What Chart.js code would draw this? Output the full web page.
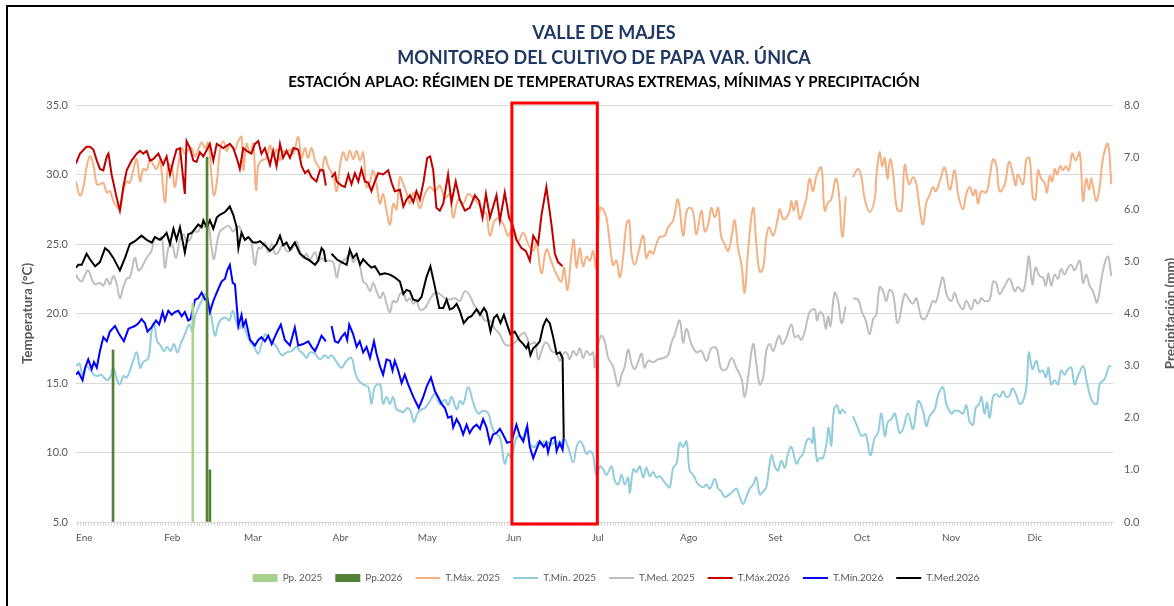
<!DOCTYPE html>
<html>
<head>
<meta charset="utf-8">
<script src="https://cdn.jsdelivr.net/npm/chart.js@4.4.1/dist/chart.umd.min.js"></script>
<style>
  html, body { margin: 0; padding: 0; background: #fff; overflow: hidden; }
  #frame { position: absolute; left: 6px; top: 5px; border-left: 2px solid #000; border-top: 2px solid #000; }
  canvas { display: block; }
</style>
</head>
<body>
<div id="frame"><canvas id="chart" width="1192" height="600"></canvas></div>
<script>
// month names and day-of-year where each month starts
const monthNames = ['Ene', 'Feb', 'Mar', 'Abr', 'May', 'Jun', 'Jul', 'Ago', 'Set', 'Oct', 'Nov', 'Dic'];
const monthStarts = [0, 31, 59, 90, 120, 151, 181, 212, 243, 273, 304, 334];

// highlighted period (red frame), in days
const boxStart = 153;
const boxEnd = 183;

// precipitation [day, mm]
const pp2025 = [[41, 4.2]];
const pp2026 = [[13, 3.3], [46, 7.0], [47, 1.0]];

// temperatures [day, °C]  (null = no data)
const tMax2025 = [[0,29.5],[1.4,28.5],[2.6,29.1],[3.7,30.5],[4.9,31.3],[6.1,30.7],[7.3,29.3],[8.4,29.3],[9.6,29.4],[10.8,28.7],[11.9,28.8],[13.1,28.1],[14.3,27.7],[15.4,27.5],[16.6,28.8],[17.8,29.5],[18.9,29.4],[20.1,30.3],[21.3,31.1],[22.5,29.5],[23.6,30.4],[24.8,30.3],[26,31.1],[27.1,30.7],[28.3,30.4],[29.5,31.0],[31.2,28.0],[32.4,30.7],[33.6,30.5],[34.7,29.1],[35.9,30.7],[37.1,31.9],[38.2,31.5],[39.4,31.8],[40.6,31.9],[41.8,31.3],[42.9,31.8],[44.1,32.3],[45.3,31.9],[46.4,32.3],[47.6,29.8],[48.4,28.5],[49.4,29.4],[50.5,31.7],[51.7,32.4],[52.9,31.7],[54,32.2],[55.8,31.8],[56.9,32.4],[58.1,32.7],[58.7,30.3],[59.9,32.2],[61.1,31.5],[62.2,32.2],[63.2,28.9],[64,30.7],[65.1,31.0],[66.9,31.2],[68.1,32.1],[69.2,31.3],[70.4,31.8],[71.6,31.0],[72.7,31.7],[73.9,31.5],[75.1,31.8],[76.3,31.5],[78,32.7],[79.2,31.2],[80.4,31.9],[81.5,31.2],[82.7,31.9],[83.9,31.0],[85,30.6],[86.2,30.3],[87.4,31.3],[88.5,30.6],[90.3,29.9],[91.5,28.8],[92.6,30.5],[93.8,31.6],[95,31.0],[96.1,31.7],[97.3,31.1],[98.5,31.7],[99.7,31.0],[100.8,31.6],[102,29.1],[103.2,29.5],[104.3,30.3],[105.5,29.3],[106.7,27.9],[107.8,28.6],[109,27.4],[110.2,26.4],[111.4,27.9],[112.5,27.5],[113.7,29.8],[114.9,29.3],[116,28.7],[117.2,27.9],[118.4,28.7],[119.5,28.3],[120.7,27.6],[122.5,28.6],[124.2,29.1],[126,28.8],[127.7,29.2],[129.5,28.3],[131.2,28.6],[132.4,26.9],[134.2,28.2],[135.9,27.9],[137.7,28.6],[139.4,28.3],[141.2,27.9],[142.9,27.4],[144.1,27.1],[145.3,25.6],[147,26.7],[148.8,26.8],[150.5,26.2],[151.7,25.6],[153.4,26.1],[155.2,25.2],[157,25.8],[158.7,25.0],[160.5,24.5],[161.6,25.1],[163.4,22.9],[165.1,24.6],[166.9,23.7],[168.7,22.8],[170.4,22.3],[171.3,23.3],[172.5,21.7],[173.9,24.3],[174.7,25.3],[175.7,23.3],[176.8,24.7],[178,23.4],[179.2,24.1],[180.4,23.8],[181.5,24.5],[182.5,23.3],[183.9,27.6],[185,27.5],[186.2,26.9],[187.4,25.0],[188.5,23.5],[189.7,23.8],[190.9,22.6],[192,24.0],[193.2,26.4],[194.2,26.7],[195,24.3],[196.1,23.5],[197.3,24.3],[199.1,25.6],[200.2,24.0],[201.4,24.5],[202.6,24.3],[203.7,25.0],[204.9,25.5],[206.7,25.6],[207.8,26.2],[209.6,26.7],[211.3,28.2],[213.1,25.6],[214.3,27.3],[215.4,27.6],[216.6,27.3],[217.8,25.7],[219.5,27.4],[220.7,25.9],[221.9,26.4],[223,27.6],[224.2,26.9],[225.4,27.6],[226.5,25.5],[227.7,25.0],[228.9,24.5],[230.1,25.5],[231.2,26.7],[232.4,24.7],[233.6,23.5],[234.7,21.5],[235.9,24.5],[237.7,27.6],[238.8,25.0],[240,23.0],[241.2,23.3],[242.3,25.5],[243.3,26.2],[244.7,25.6],[246.4,26.9],[247,27.5],[248.2,26.8],[249.4,26.9],[250.5,27.4],[251.1,28.1],[251.9,27.4],[252.9,28.1],[254,26.8],[255.2,27.4],[256.4,28.3],[257.5,29.7],[258.7,28.8],[259.9,29.9],[261.6,30.5],[262.8,27.4],[264,28.0],[265.1,28.2],[266.7,29.7],[267.8,28.6],[269,25.5],[270.2,28.4],[271.4,null],[272.7,29.8],[274.5,30.4],[275.7,29.8],[276.8,28.3],[278.6,27.3],[280.4,28.3],[280.9,29.8],[282.1,31.6],[283,30.6],[283.9,31.2],[284.8,29.7],[285.8,31.1],[286.8,30.1],[288.2,27.5],[289.7,27.4],[290.9,30.7],[292.4,29.3],[293.8,29.8],[295,29.3],[296.1,27.6],[297.3,26.4],[298.5,28.0],[299.6,28.5],[300.8,29.1],[301.8,28.8],[303.2,29.5],[304.9,30.5],[306.7,28.9],[308.4,30.3],[309.6,28.6],[311.3,27.5],[312.5,28.6],[313.7,29.1],[314.9,28.5],[315.8,28.9],[316.6,27.9],[317.8,28.8],[319.5,28.7],[320.7,29.8],[321.9,31.1],[323,30.7],[324.2,28.8],[326,29.3],[327.5,30.9],[328.9,30.0],[329.8,29.2],[330.6,30.0],[332.4,29.3],[333.6,31.1],[334.7,31.2],[335.9,28.3],[336.8,28.2],[337.7,30.3],[338.8,29.7],[340,29.4],[340.8,28.7],[341.8,29.9],[342.7,29.5],[343.5,30.4],[344.4,30.0],[345.5,30.6],[346.4,30.3],[347.4,30.6],[348.5,30.3],[349.7,31.5],[350.9,31.0],[352.3,31.6],[353.5,28.1],[354.6,29.7],[355.6,28.9],[356.4,29.7],[358.1,28.1],[359.3,29.1],[360.5,31.2],[362.2,32.2],[363.4,29.3]];

const tMin2025 = [[0,16.2],[1.2,16.4],[2.3,15.6],[3.7,16.2],[5.1,15.9],[6.3,15.6],[7.5,15.5],[8.7,15.6],[9.8,15.4],[11,15.2],[12.2,15.5],[13.1,16.1],[14.3,15.3],[15.4,14.9],[16.6,15.5],[17.8,15.4],[18.9,15.9],[20.1,16.6],[21.3,17.2],[22.5,16.1],[23.6,16.5],[25.4,16.8],[26.5,18.7],[27.4,19.3],[28.5,18.0],[29.7,17.7],[30.9,17.3],[32,17.6],[33.2,17.3],[34.4,17.8],[35.6,17.2],[36.7,17.8],[38.2,18.5],[39.8,19.2],[40.9,18.7],[41.8,19.8],[42.9,20.4],[44.1,20.9],[45.3,21.4],[46.4,20.9],[47.6,19.7],[48.8,18.4],[49.9,19.2],[51.1,19.6],[52.6,19.7],[53.8,19.5],[55,20.2],[56.1,19.5],[57.3,18.9],[58.5,19.3],[59.6,18.7],[61.1,18.0],[62.5,17.6],[64,17.1],[65.1,17.8],[66.3,18.5],[67.5,18.3],[68.7,18.0],[70.4,17.6],[72.2,17.0],[73.9,17.2],[75.7,17.3],[77.4,17.6],[78.6,17.3],[79.8,17.1],[80.9,16.8],[82.1,17.2],[83.9,17.1],[85.6,16.7],[87.4,17.0],[88.5,16.8],[89.7,17.0],[91.5,16.5],[93.2,16.1],[95,16.6],[96.7,16.8],[97.9,15.8],[99.1,15.2],[100.8,14.9],[102.6,14.7],[103.7,13.5],[104.9,14.7],[106.7,14.9],[107.8,13.5],[109,14.0],[110.2,13.5],[111.3,14.0],[112.5,13.1],[113.7,13.0],[114.9,12.9],[116.3,13.2],[117.4,13.0],[118.6,12.2],[119.8,12.8],[121.3,13.1],[122.5,13.2],[124.2,13.7],[126,14.2],[127.7,13.5],[129.5,13.8],[130.6,13.4],[131.8,14.0],[133.6,13.1],[134.7,13.7],[135.9,13.5],[137.7,14.7],[139.4,13.6],[141.2,12.8],[142.9,13.0],[144.7,12.8],[145.8,12.0],[147,11.4],[148.8,11.1],[150.5,9.2],[151.7,9.9],[152.9,9.6],[154,10.7],[155.2,11.2],[157,11.1],[158.1,11.8],[159.3,10.6],[161.1,10.4],[162.2,10.8],[163.4,10.6],[164.6,10.8],[165.7,10.7],[166.9,10.6],[168.7,10.8],[169.8,10.4],[171.2,11.0],[172.7,10.4],[174.5,9.3],[175.7,10.4],[176.8,10.8],[178,10.5],[179.2,9.9],[180.4,10.1],[181.5,9.8],[182.7,8.3],[183.9,9.0],[185,8.8],[186.2,8.4],[188,9.0],[189.1,8.0],[190.3,7.7],[191.5,8.4],[192.6,7.7],[193.8,8.2],[194.4,7.1],[195.6,8.8],[196.7,8.6],[197.9,9.0],[199.1,8.2],[200.2,8.9],[201.4,8.3],[202.6,8.6],[203.7,8.2],[204.9,8.3],[206.1,8.0],[207.2,7.7],[208.4,7.5],[209.6,8.9],[210.8,9.2],[211.9,10.7],[213.1,10.4],[214.3,10.8],[215.4,8.7],[216.6,8.4],[218.4,7.7],[220.1,7.5],[221.3,7.7],[222.5,7.4],[224.2,8.1],[225.4,7.4],[226.5,7.2],[227.7,6.8],[229.5,7.0],[230.6,7.2],[231.8,7.4],[233,6.8],[234.2,6.3],[235.3,6.8],[236.5,7.4],[237.7,7.7],[238.8,8.2],[240,7.0],[241.2,7.2],[242.3,7.5],[244.1,9.8],[245.3,9.0],[246.4,8.7],[247.6,9.4],[248.8,8.9],[249.9,9.9],[251.1,10.4],[252.9,9.2],[254,9.6],[255.2,9.9],[256.4,10.8],[257.5,11.0],[258.5,10.7],[258.9,11.8],[260.1,9.4],[261.1,9.6],[262.2,9.6],[263.4,10.6],[264.2,11.8],[265.1,10.5],[266,13.0],[267.1,13.4],[268.1,12.8],[269,13.1],[270.2,12.8],[271.4,null],[272.7,12.6],[274.2,11.9],[275.7,11.2],[277.2,11.3],[278.8,9.8],[280.4,11.1],[281.5,11.4],[282.7,12.8],[283.9,11.2],[285,12.2],[286.2,12.4],[287.4,12.8],[289.1,11.4],[290.3,11.7],[292,12.8],[293.8,11.7],[295.6,13.7],[297.3,13.0],[298.5,11.9],[299.6,12.6],[301.4,13.1],[302.6,14.1],[304.3,14.7],[305.5,13.5],[307.3,12.8],[308.4,13.0],[309.8,13.0],[311.3,12.8],[312.5,13.4],[313.7,12.2],[314.9,12.0],[315.8,13.2],[317,13.5],[317.8,14.0],[318.9,12.8],[319.8,13.6],[320.7,12.5],[321.9,14.0],[323,14.2],[324.2,14.0],[325.4,14.4],[326.5,14.0],[327.7,14.1],[328.7,14.6],[330.1,14.1],[331.2,13.5],[332.4,13.7],[333.6,14.7],[334.5,17.2],[335.7,16.0],[337.1,16.6],[338.2,15.8],[339.4,15.9],[340.4,15.4],[341.3,16.1],[342.3,14.9],[343.5,15.2],[344.7,14.9],[345.8,15.9],[347,15.6],[348.2,16.0],[349.4,16.1],[350.5,14.9],[351.7,15.5],[353.5,16.2],[354.6,15.3],[355.8,14.2],[357,13.6],[358.4,13.5],[359.3,14.9],[361.1,15.3],[362.6,16.2],[363.4,16.2]];

const tMed2025 = [[0,22.8],[0.8,22.5],[2,22.3],[3.2,22.8],[4.3,23.1],[5.5,22.5],[6.7,22.1],[8.4,22.2],[9.6,22.0],[10.8,22.5],[11.9,22.1],[13.1,22.7],[14.3,22.1],[15.4,21.1],[16.6,21.9],[17.8,22.5],[18.9,22.6],[20.7,24.0],[21.9,23.1],[23,23.3],[24.8,24.0],[26.5,24.5],[27.7,25.5],[28.9,25.3],[30.1,25.5],[31.2,23.3],[32.4,24.7],[33.6,25.0],[35.1,24.0],[36.3,25.2],[37.7,25.7],[38.8,25.2],[40,25.3],[41.2,25.9],[42.9,25.9],[44.1,26.4],[45.3,26.2],[46.4,26.4],[47.6,24.7],[48.4,23.9],[49.4,25.0],[50.5,25.9],[51.7,26.1],[53.5,26.3],[55.2,25.9],[57,26.3],[58.1,25.9],[59.3,25.3],[60.5,25.5],[61.6,25.0],[62.8,23.5],[64,24.7],[65.1,24.7],[66.3,25.1],[67.5,24.4],[68.7,25.0],[69.8,24.3],[71,24.4],[72.7,25.0],[73.9,24.5],[75.7,24.6],[77.4,25.2],[78.6,24.5],[79.8,24.0],[80.9,24.3],[82.1,23.9],[83.9,24.4],[85,23.8],[86.2,24.0],[87.4,23.8],[89.1,23.8],[90.3,23.7],[91.5,22.6],[92.6,23.5],[93.8,23.8],[95,24.0],[96.1,24.3],[97.3,23.7],[98.5,24.0],[99.6,23.5],[100.8,22.3],[102,22.1],[103.2,21.6],[104.3,22.2],[105.5,21.6],[106.7,21.1],[107.8,21.5],[109,20.7],[110.2,20.1],[111.3,20.9],[112.5,20.8],[113.7,21.4],[114.9,21.5],[116,20.9],[117.2,21.1],[118.4,20.7],[119.5,20.9],[120.7,20.3],[122.5,20.4],[124.2,21.0],[126,21.5],[127.7,21.4],[129.5,21.1],[131.2,21.0],[133,21.1],[134.7,20.9],[136.5,21.6],[138.2,21.3],[140,20.5],[141.8,20.1],[143.5,19.5],[145.3,19.5],[147,18.9],[148.8,18.5],[150.5,17.8],[152.3,17.7],[154,17.9],[155.8,18.4],[157.5,18.6],[159.3,17.8],[161.1,17.9],[162.2,16.7],[163.4,17.3],[164.6,17.9],[165.7,17.8],[166.9,17.3],[168.7,17.1],[169.8,16.6],[171,17.1],[172.2,17.2],[173.3,16.7],[174.5,17.3],[175.7,17.0],[176.8,17.5],[178,16.8],[179.2,17.3],[180.4,17.0],[181.5,17.2],[182.1,16.1],[183.3,17.8],[184.4,18.4],[185.6,18.0],[186.8,16.8],[188.5,16.2],[190.3,14.8],[191.5,15.6],[192.6,16.2],[193.8,17.4],[195,16.4],[196.1,16.0],[197.3,16.5],[198.5,17.1],[199.6,16.1],[200.8,16.6],[202.6,16.5],[204.3,16.7],[206.1,16.8],[207.8,17.0],[209,17.9],[210.2,18.5],[211.9,19.5],[213.1,17.9],[214.3,18.9],[216,17.8],[217.8,17.2],[219.5,17.3],[221.3,16.6],[223,17.5],[224.8,17.5],[226.5,16.0],[228.3,16.0],[230.1,16.8],[231.8,16.1],[233.6,15.3],[234.7,14.0],[235.9,15.4],[237.7,17.8],[238.8,16.4],[240,14.9],[241.2,15.4],[242.3,17.3],[243.5,17.8],[244.7,17.3],[245.8,17.9],[246.8,18.4],[248,17.8],[249.4,18.3],[251.1,19.2],[252.3,18.3],[253.5,18.4],[254.6,18.1],[255.8,18.7],[257.5,20.1],[259.3,20.3],[260.1,19.5],[261.1,20.1],[262.2,19.9],[263.2,18.9],[264,19.8],[264.8,19.1],[266.3,21.5],[267.5,20.9],[268.7,19.3],[270.2,20.5],[271.4,null],[272.7,21.1],[274.5,21.0],[275.7,20.2],[277.2,19.5],[278.6,18.5],[279.8,19.6],[280.9,19.9],[282.1,21.9],[283.3,21.6],[284.4,20.9],[285.6,21.7],[286.8,21.4],[288.5,19.3],[290.9,21.4],[292.4,21.0],[293.8,20.7],[295,21.1],[296.7,19.7],[297.9,19.6],[299.6,20.3],[300.8,20.9],[301.8,20.8],[303.2,21.9],[304.3,22.6],[305.7,21.3],[307.3,20.9],[308.4,21.5],[309.6,20.8],[311.3,20.3],[312.5,20.9],[314.3,20.3],[315.4,21.0],[316.6,20.7],[317.8,21.1],[318.9,20.9],[320.7,21.0],[321.9,22.3],[323,22.2],[324.2,21.4],[326,22.0],[327.7,22.5],[329.5,21.6],[330.6,21.9],[332.4,21.6],[333.6,22.8],[334.5,24.1],[335.7,22.1],[336.8,23.3],[338.2,22.7],[339.4,22.6],[340.4,22.0],[341.3,22.9],[342.3,22.0],[343.5,22.8],[344.7,22.5],[345.8,23.2],[347,22.8],[348.2,23.3],[349.4,23.5],[350.5,23.1],[352.3,23.8],[353.5,22.2],[354.6,22.8],[355.8,22.0],[357,21.6],[358.4,20.8],[360.5,23.1],[362.2,24.1],[363.4,22.7]];

const tMax2026 = [[0,30.8],[1.4,31.5],[3.7,32.0],[4.9,32.0],[6.1,31.8],[7.3,31.0],[8.4,30.4],[9.6,30.3],[10.8,31.3],[11.4,31.5],[12.5,30.0],[14.3,28.3],[15.4,27.4],[16.6,29.1],[17.8,30.3],[19.5,31.0],[21.3,31.5],[22.5,31.7],[23.6,31.5],[24.8,31.7],[26,31.0],[27.1,31.1],[28.9,31.5],[30.6,30.7],[31.8,31.3],[33,30.0],[34.2,31.0],[35.3,31.8],[36.5,31.9],[38.2,28.6],[38.8,32.4],[40,31.9],[41.2,31.0],[42.3,30.9],[43.5,31.6],[44.7,31.3],[47,32.2],[48.2,31.0],[49.4,32.2],[51.7,31.9],[54,32.2],[55.2,31.9],[56.4,31.2],[57.5,30.4],[58.7,31.9],[59.9,31.7],[61.6,31.5],[62.8,32.2],[64,32.4],[65.1,31.5],[66.3,31.9],[68.1,30.7],[69.2,31.7],[70.4,30.6],[71.6,32.2],[72.7,31.2],[73.9,31.7],[75.1,31.2],[76.3,31.9],[78,31.8],[79.2,30.6],[80.4,30.1],[81.5,30.3],[82.7,29.8],[84.4,29.5],[85.6,30.3],[86.8,30.3],[87.7,29.2],[88.7,null],[89.7,29.8],[90.9,30.1],[91.5,29.5],[93.2,29.2],[94.4,29.1],[95.6,30.0],[96.7,29.3],[97.9,30.1],[99.1,29.5],[100.2,30.4],[101.4,29.5],[102.6,29.4],[103.7,28.8],[104.9,29.5],[106.1,30.1],[107.8,30.0],[109.6,30.3],[110.8,29.4],[111.9,28.8],[113.7,28.9],[114.9,27.7],[116,28.2],[117.2,28.5],[118.4,28.0],[119.5,28.8],[120.7,28.2],[122,29.5],[123.3,31.2],[124.3,31.3],[125.4,30.3],[126.5,27.6],[127.7,27.4],[128.9,27.9],[130.6,30.0],[131.8,28.0],[133.3,29.5],[134.7,28.2],[136.5,27.4],[138.2,27.6],[140,28.5],[141.5,28.1],[142.7,26.9],[143.9,28.6],[145.3,26.9],[147.6,28.5],[148.8,26.7],[150.5,28.7],[152,26.9],[153.2,26.4],[154.6,25.3],[156.4,24.7],[157.9,24.5],[159.3,23.8],[160.5,25.6],[162.2,25.0],[163.4,27.1],[165.1,29.1],[166.9,26.4],[168.1,24.3],[169.2,23.7],[170.8,23.4]];

const tMin2026 = [[0,15.6],[0.8,15.8],[2.3,15.2],[3.2,16.1],[4.3,16.7],[5.5,16.0],[6.3,16.5],[7.3,16.1],[8.4,17.3],[9.6,18.3],[10.8,18.0],[11.9,18.7],[13.7,19.1],[15.2,18.5],[16.8,18.0],[18.4,18.9],[19.5,19.0],[20.7,19.1],[21.9,19.3],[23,19.6],[24.2,19.3],[25.1,18.7],[26.5,19.0],[28.1,19.5],[29.2,19.2],[30.4,20.1],[31.2,19.5],[32.4,20.2],[33.6,19.9],[34.7,20.1],[35.9,20.2],[37.1,19.8],[38.2,20.1],[39.4,19.5],[40.2,19.6],[41.8,21.0],[42.9,21.1],[44.1,21.5],[45.3,21.0],[46.1,21.1],[47,20.1],[48.2,20.9],[49.6,21.6],[51.1,22.3],[52.3,22.5],[53.1,23.1],[54,23.5],[55,22.2],[55.8,22.1],[57,19.1],[58.1,19.9],[58.7,19.1],[59.6,19.5],[61.1,18.1],[62.8,17.7],[64,18.1],[65.1,18.3],[66.3,18.0],[67.5,18.4],[68.7,17.8],[70.4,18.6],[71.9,19.2],[73.3,18.1],[75.1,17.7],[76.8,19.0],[78,17.7],[79.8,17.8],[81.5,18.0],[82.7,17.6],[83.9,17.3],[85,17.8],[86.2,18.4],[87.7,18.0],[88.7,null],[89.7,19.1],[90.9,18.0],[92,17.9],[93.2,18.3],[94.4,18.6],[95.2,18.1],[95.9,19.2],[97.3,18.5],[98.5,17.6],[99.6,18.0],[100.8,17.2],[102,17.6],[103.2,16.8],[104.6,18.0],[105.5,17.1],[106.7,16.2],[107.8,15.6],[109,16.7],[110.2,16.6],[111.1,15.9],[111.9,16.6],[113.1,15.9],[114.3,15.0],[115.4,15.6],[116.6,14.9],[118.4,14.0],[120.3,13.2],[121.9,14.0],[123.2,14.8],[124.6,15.4],[126,14.4],[127.1,14.0],[128.3,13.5],[129.5,13.2],[130.6,12.5],[131.8,12.6],[132.4,11.8],[133.6,12.4],[134.7,12.0],[135.9,11.3],[137.1,12.0],[138.2,11.4],[139.4,11.8],[140.6,12.0],[141.8,11.7],[142.9,12.4],[144.1,11.8],[145.3,10.7],[146.4,11.3],[147.6,11.4],[148.8,11.7],[149.9,11.3],[151.3,10.7],[152.9,10.8],[154.6,12.0],[155.8,11.2],[157,10.8],[158.4,11.9],[159.3,10.4],[160.5,9.6],[161.6,10.2],[162.8,10.8],[164.2,10.4],[165.1,10.7],[165.7,10.0],[166.9,11.0],[168.1,11.1],[168.7,10.1],[169.8,10.7],[170.8,10.2],[171.2,11.0]];

const tMed2026 = [[0,23.3],[0.8,23.5],[2,23.5],[3.7,24.3],[4.9,23.9],[6.7,23.4],[8.4,23.7],[10.2,24.7],[11.4,24.5],[13.1,24.0],[15.4,23.1],[17.2,24.0],[18.9,25.0],[20.7,25.2],[23,25.6],[24.8,25.3],[26.6,25.1],[27.7,25.5],[29.5,25.3],[30.6,25.5],[31.8,25.8],[33,25.0],[34.2,26.1],[35.3,25.3],[36.5,26.2],[38.2,24.4],[39.4,25.7],[40.6,25.8],[41.8,26.1],[42.9,26.4],[44.1,26.2],[44.7,26.7],[45.9,26.2],[47,26.7],[48.2,26.1],[49.4,26.9],[50.5,27.1],[52.3,27.3],[54,27.7],[55.2,27.1],[56.4,26.2],[57,24.7],[58.1,25.8],[59.3,25.3],[60.5,25.5],[62.2,25.1],[63.4,25.1],[64.6,25.2],[66.3,24.9],[68.1,24.5],[69.2,24.7],[70.4,25.0],[71.6,25.6],[72.7,24.9],[73.9,25.1],[75.1,24.6],[76.8,25.1],[78.6,24.3],[80.4,24.0],[82.1,23.8],[83.9,23.5],[85,23.8],[86.2,24.7],[87,24.5],[87.7,23.7],[88.7,null],[89.7,24.3],[91.5,23.9],[93.2,23.7],[95,23.5],[96.1,24.6],[97.3,24.0],[98.5,24.3],[99.7,23.5],[100.8,23.9],[102.6,23.5],[103.7,23.3],[104.9,23.4],[106.7,22.8],[108.4,22.9],[110.2,22.8],[111.9,22.6],[113.7,22.3],[114.9,21.4],[116,21.7],[117.2,21.6],[118.4,21.0],[120.1,20.9],[121.3,21.2],[123,22.6],[124.4,23.4],[126,21.9],[127.5,20.4],[128.9,20.4],[130.1,21.0],[131.2,20.3],[132.4,20.4],[133.6,20.7],[134.7,20.2],[136.1,19.3],[137.7,19.7],[138.8,19.8],[140.6,20.3],[141.8,19.9],[143.2,20.4],[144.1,20.1],[145.5,18.7],[146.7,19.7],[147.8,19.9],[149,19.3],[150.2,19.9],[151.3,19.2],[152.5,18.5],[154,18.7],[155.6,18.1],[157,17.8],[158.1,17.5],[158.7,17.8],[159.5,17.0],[160.5,17.5],[161.6,17.7],[162.8,18.0],[164,19.1],[165.1,19.6],[166.3,19.3],[167.5,18.3],[168.7,17.1],[169.8,17.2],[170.8,16.8],[171.2,11.0]];

Chart.defaults.font.family = 'Lato, "Open Sans", sans-serif';
const grey = '#595959';

const toPoints = arr => arr.map(([x, y]) => ({ x, y }));

function lineSet(label, data, color, order, smooth) {
  return {
    type: 'line', label, data: toPoints(data), yAxisID: 'y', order,
    borderColor: color, backgroundColor: color, borderWidth: 2,
    pointRadius: 0, pointStyle: 'line', tension: smooth ? 0.4 : 0
  };
}
function barSet(label, data, color) {
  return {
    type: 'bar', label, data: toPoints(data), yAxisID: 'y2', order: 0,
    backgroundColor: color, borderWidth: 0, barThickness: 2, grouped: false, pointStyle: 'rect'
  };
}

// one tick per day, labelled at month starts
const dayTicks = [];
for (let d = 0; d <= 364; d++) dayTicks.push({ value: d });

const extras = {
  id: 'extras',
  afterLayout(chart) {
    chart.legend.left += 12;
    chart.legend.right += 12;
  },
  afterDatasetsDraw(chart) {
    const { ctx, chartArea, scales: { x } } = chart;
    const x0 = x.getPixelForValue(boxStart);
    const x1 = x.getPixelForValue(boxEnd);
    ctx.save();
    ctx.strokeStyle = '#ff0000';
    ctx.lineWidth = 3;
    ctx.strokeRect(x0, chartArea.top - 2, x1 - x0, chartArea.bottom - chartArea.top + 4);
    ctx.restore();
  },
  afterDraw(chart) {
    // right axis title, reading bottom to top like the left one
    const { ctx, chartArea, scales: { y2 } } = chart;
    ctx.save();
    ctx.translate(y2.right - 29, (chartArea.top + chartArea.bottom) / 2);
    ctx.rotate(-Math.PI / 2);
    ctx.font = 'bold 13.5px Lato, "Open Sans", sans-serif';
    ctx.fillStyle = grey;
    ctx.textAlign = 'center';
    ctx.textBaseline = 'middle';
    ctx.fillText('Precipitación (mm)', 0, 0);
    ctx.restore();
  }
};

new Chart(document.getElementById('chart'), {
  type: 'line',
  data: {
    datasets: [
      barSet('Pp. 2025', pp2025, '#a9d18e'),
      barSet('Pp.2026', pp2026, '#548235'),
      lineSet('T.Máx. 2025', tMax2025, '#f4b183', 2, true),
      lineSet('T.Mín. 2025', tMin2025, '#92cddc', 2, true),
      lineSet('T.Med. 2025', tMed2025, '#bfbfbf', 2, true),
      lineSet('T.Máx.2026', tMax2026, '#c00000', 1, false),
      lineSet('T.Mín.2026', tMin2026, '#0000ff', 1, false),
      lineSet('T.Med.2026', tMed2026, '#000000', 1, false)
    ]
  },
  options: {
    responsive: false,
    animation: false,
    layout: { padding: { top: 0, left: 0, right: 0, bottom: 14 } },
    scales: {
      x: {
        type: 'linear', min: 0, max: 364, offset: false,
        afterBuildTicks: s => { s.ticks = dayTicks.map(t => ({ value: t.value })); },
        afterFit: s => { s.height = 38; },
        ticks: {
          autoSkip: false, maxRotation: 0, align: 'start', padding: 6,
          color: grey, font: { size: 10 },
          callback: v => { const i = monthStarts.indexOf(v); return i >= 0 ? monthNames[i] : ''; }
        },
        grid: { drawOnChartArea: false, drawTicks: true, tickLength: 4, color: '#d9d9d9' },
        border: { display: true, color: '#d9d9d9' }
      },
      y: {
        position: 'left', min: 5, max: 35,
        afterFit: s => { s.width = 68; },
        ticks: { stepSize: 5, padding: 8, color: grey, font: { size: 11 }, callback: v => v.toFixed(1) },
        grid: { color: '#d9d9d9', drawTicks: false },
        border: { display: false },
        title: { display: true, text: 'Temperatura (°C)', color: grey, font: { size: 13.5, weight: 'bold' }, padding: { top: 12, bottom: 0 } }
      },
      y2: {
        position: 'right', min: 0, max: 8,
        afterFit: s => { s.width = 87; },
        ticks: { stepSize: 1, padding: 11, color: grey, font: { size: 11 }, callback: v => v.toFixed(1) },
        grid: { drawOnChartArea: false, drawTicks: false },
        border: { display: false }
      }
    },
    plugins: {
      title: {
        display: true,
        text: ['VALLE DE MAJES', 'MONITOREO DEL CULTIVO DE PAPA VAR. ÚNICA'],
        color: '#1f3864',
        font: { size: 18, weight: 'bold', lineHeight: '25px' },
        padding: { top: 14, bottom: 0 }
      },
      subtitle: {
        display: true,
        text: 'ESTACIÓN APLAO: RÉGIMEN DE TEMPERATURAS EXTREMAS, MÍNIMAS Y PRECIPITACIÓN',
        color: '#000000',
        font: { size: 15, weight: 'bold' },
        padding: { top: 2, bottom: 14 }
      },
      legend: {
        position: 'bottom',
        labels: {
          usePointStyle: true, pointStyleWidth: 25, boxHeight: 8, padding: 13,
          color: grey, font: { size: 10 },
          sort: (a, b) => a.datasetIndex - b.datasetIndex
        }
      },
      tooltip: { enabled: false }
    }
  },
  plugins: [extras]
});
</script>
</body>
</html>
